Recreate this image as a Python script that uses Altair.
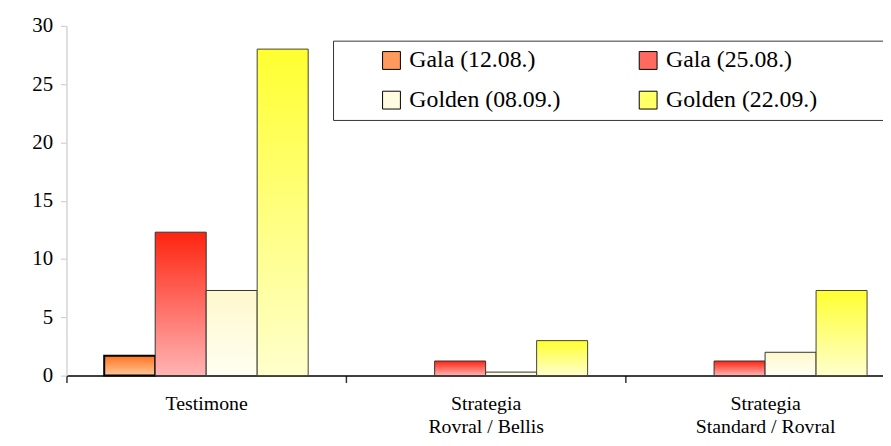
import altair as alt
import pandas as pd

groups = ["Testimone", "Strategia\nRovral / Bellis", "Strategia\nStandard / Rovral"]
series = ["Gala (12.08.)", "Gala (25.08.)", "Golden (08.09.)", "Golden (22.09.)"]
gala_1208 = [1.7, 0.0, 0.0]
gala_2508 = [12.3, 1.25, 1.25]
golden_0809 = [7.3, 0.3, 2.0]
golden_2209 = [28.0, 3.0, 7.3]
y_ticks = [0, 5, 10, 15, 20, 25, 30]

values_by_series = [gala_1208, gala_2508, golden_0809, golden_2209]
rows = []
for s, vals in zip(series, values_by_series):
    for g, v in zip(groups, vals):
        rows.append({"group": g, "series": s, "value": v})
df = pd.DataFrame(rows)

legend_colors = ["#ff9a5c", "#ff6a60", "#fffbe0", "#ffff66"]
gradients = [
    ("#ff7420", "#ffc79a", "#000000", 2),
    ("#ff2410", "#ffb4b4", "#333333", 1),
    ("#fff8cc", "#fffff2", "#333333", 1),
    ("#ffff30", "#ffffcc", "#444433", 1),
]

FONT = "Liberation Serif"

base = alt.Chart(df).encode(
    x=alt.X(
        "group:N",
        sort=groups,
        title=None,
        scale=alt.Scale(range=[0, 846], paddingInner=0, paddingOuter=0),
        axis=alt.Axis(
            tickBand="extent",
            domainColor="#000000",
            domainWidth=1.5,
            tickColor="#333333",
            tickWidth=1.5,
            tickSize=7,
            labelAngle=0,
            labelPadding=11,
            labelFont=FONT,
            labelFontSize=20,
            labelColor="#000000",
            labelLineHeight=23,
            labelExpr="split(datum.label, '\\n')",
            grid=False,
        ),
    ),
    xOffset=alt.XOffset(
        "series:N",
        sort=series,
        scale=alt.Scale(paddingInner=0, paddingOuter=0.74),
    ),
    y=alt.Y(
        "value:Q",
        title=None,
        scale=alt.Scale(domain=[0, 30], nice=False),
        axis=alt.Axis(
            values=y_ticks,
            domainColor="#d4d4d4",
            domainWidth=1.5,
            tickColor="#c8c8c8",
            tickSize=6,
            labelPadding=8,
            labelFont=FONT,
            labelFontSize=21,
            labelColor="#000000",
            gridColor="#d9d9d9",
            gridWidth=1,
        ),
    ),
)

legend_layer = base.mark_bar(strokeWidth=0).encode(
    y=alt.datum(0),
    fill=alt.Fill(
        "series:N",
        sort=series,
        scale=alt.Scale(domain=series, range=legend_colors),
        legend=alt.Legend(
            title="\u00a0",
            titleOrient="right",
            titlePadding=77,
            orient="none",
            legendX=269,
            legendY=15,
            columns=2,
            direction="horizontal",
            columnPadding=37,
            rowPadding=16,
            padding=8,
            symbolOffset=39,
            symbolType="square",
            symbolSize=324,
            symbolStrokeColor="#000000",
            symbolStrokeWidth=1,
            labelFont=FONT,
            labelFontSize=24,
            labelColor="#000000",
            labelOffset=6,
            labelLimit=400,
            strokeColor="#333333",
            fillColor="#ffffff",
        ),
    ),
)

layers = [legend_layer]
for s, (top, bottom, stroke, sw) in zip(series, gradients):
    grad = alt.Gradient(
        gradient="linear",
        stops=[alt.GradientStop(color=top, offset=0), alt.GradientStop(color=bottom, offset=1)],
        x1=0, x2=0, y1=0, y2=1,
    )
    layers.append(
        base.transform_filter((alt.datum.series == s) & (alt.datum.value > 0)).mark_bar(
            color=grad, stroke=stroke, strokeWidth=sw
        )
    )

chart = alt.layer(*layers).properties(
    width=824,
    height=353,
    autosize=alt.AutoSizeParams(type="none"),
    padding={"left": 59, "top": 16, "right": 0, "bottom": 61},
).configure(font=FONT).configure_view(stroke=None).configure_legend(labelFont=FONT)

chart.save("out.html", embed_options={"renderer": "svg", "actions": False})
